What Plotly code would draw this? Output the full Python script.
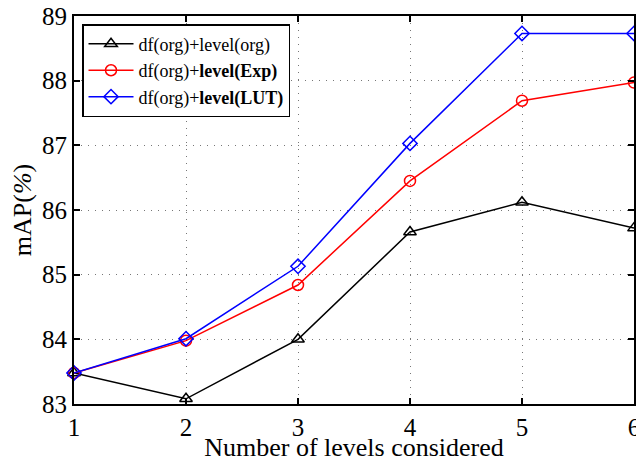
import plotly.graph_objects as go

levels = [1, 2, 3, 4, 5, 6]
org_org = [83.48, 83.08, 84.00, 85.66, 86.12, 85.72]
org_exp = [83.48, 83.98, 84.84, 86.45, 87.69, 87.97]
org_lut = [83.48, 84.01, 85.13, 87.03, 88.73, 88.73]
names = ["df(org)+level(org)", "df(org)+<b>level(Exp)</b>", "df(org)+<b>level(LUT)</b>"]

FONT = "Liberation Serif, Times New Roman, serif"

fig = go.Figure()
specs = [(org_org, "black", "triangle-up-open"),
         (org_exp, "red", "circle-open"),
         (org_lut, "blue", "diamond-open")]
for (vals, col, sym), nm in zip(specs, names):
    fig.add_trace(go.Scatter(
        x=levels, y=vals, name=nm, mode="lines+markers",
        line=dict(color=col, width=1.5),
        marker=dict(symbol=sym, size=11, color=col, line=dict(width=1.5, color=col)),
        cliponaxis=False))

axis_common = dict(
    showline=True, linecolor="black", linewidth=2, mirror="ticks",
    ticks="inside", ticklen=6, tickwidth=1.5, tickcolor="black",
    showgrid=True, gridcolor="#777777", griddash="1px,6px", gridwidth=1,
    zeroline=False, ticklabeloverflow="allow", automargin=False,
    tickfont=dict(family=FONT, size=25, color="black"),
)

fig.update_layout(
    width=636, height=462,
    margin=dict(l=74, r=2, t=16, b=58),
    paper_bgcolor="white", plot_bgcolor="white",
    font=dict(family=FONT, color="black"),
    xaxis=dict(range=[1, 6], dtick=1, tick0=1,
               title=dict(text="Number of levels considered", font=dict(family=FONT, size=26), standoff=5),
               **axis_common),
    yaxis=dict(range=[83, 89], dtick=1, tick0=83,
               title=dict(text="mAP(<i>%</i>)", font=dict(family=FONT, size=26), standoff=3),
               **axis_common),
    legend=dict(x=0.0143, y=0.979, xanchor="left", yanchor="top",
                bgcolor="white", bordercolor="black", borderwidth=1.5,
                font=dict(family=FONT, size=18, color="black"),
                tracegroupgap=0, itemwidth=45),
    showlegend=True,
)

fig.write_html("out.html")
